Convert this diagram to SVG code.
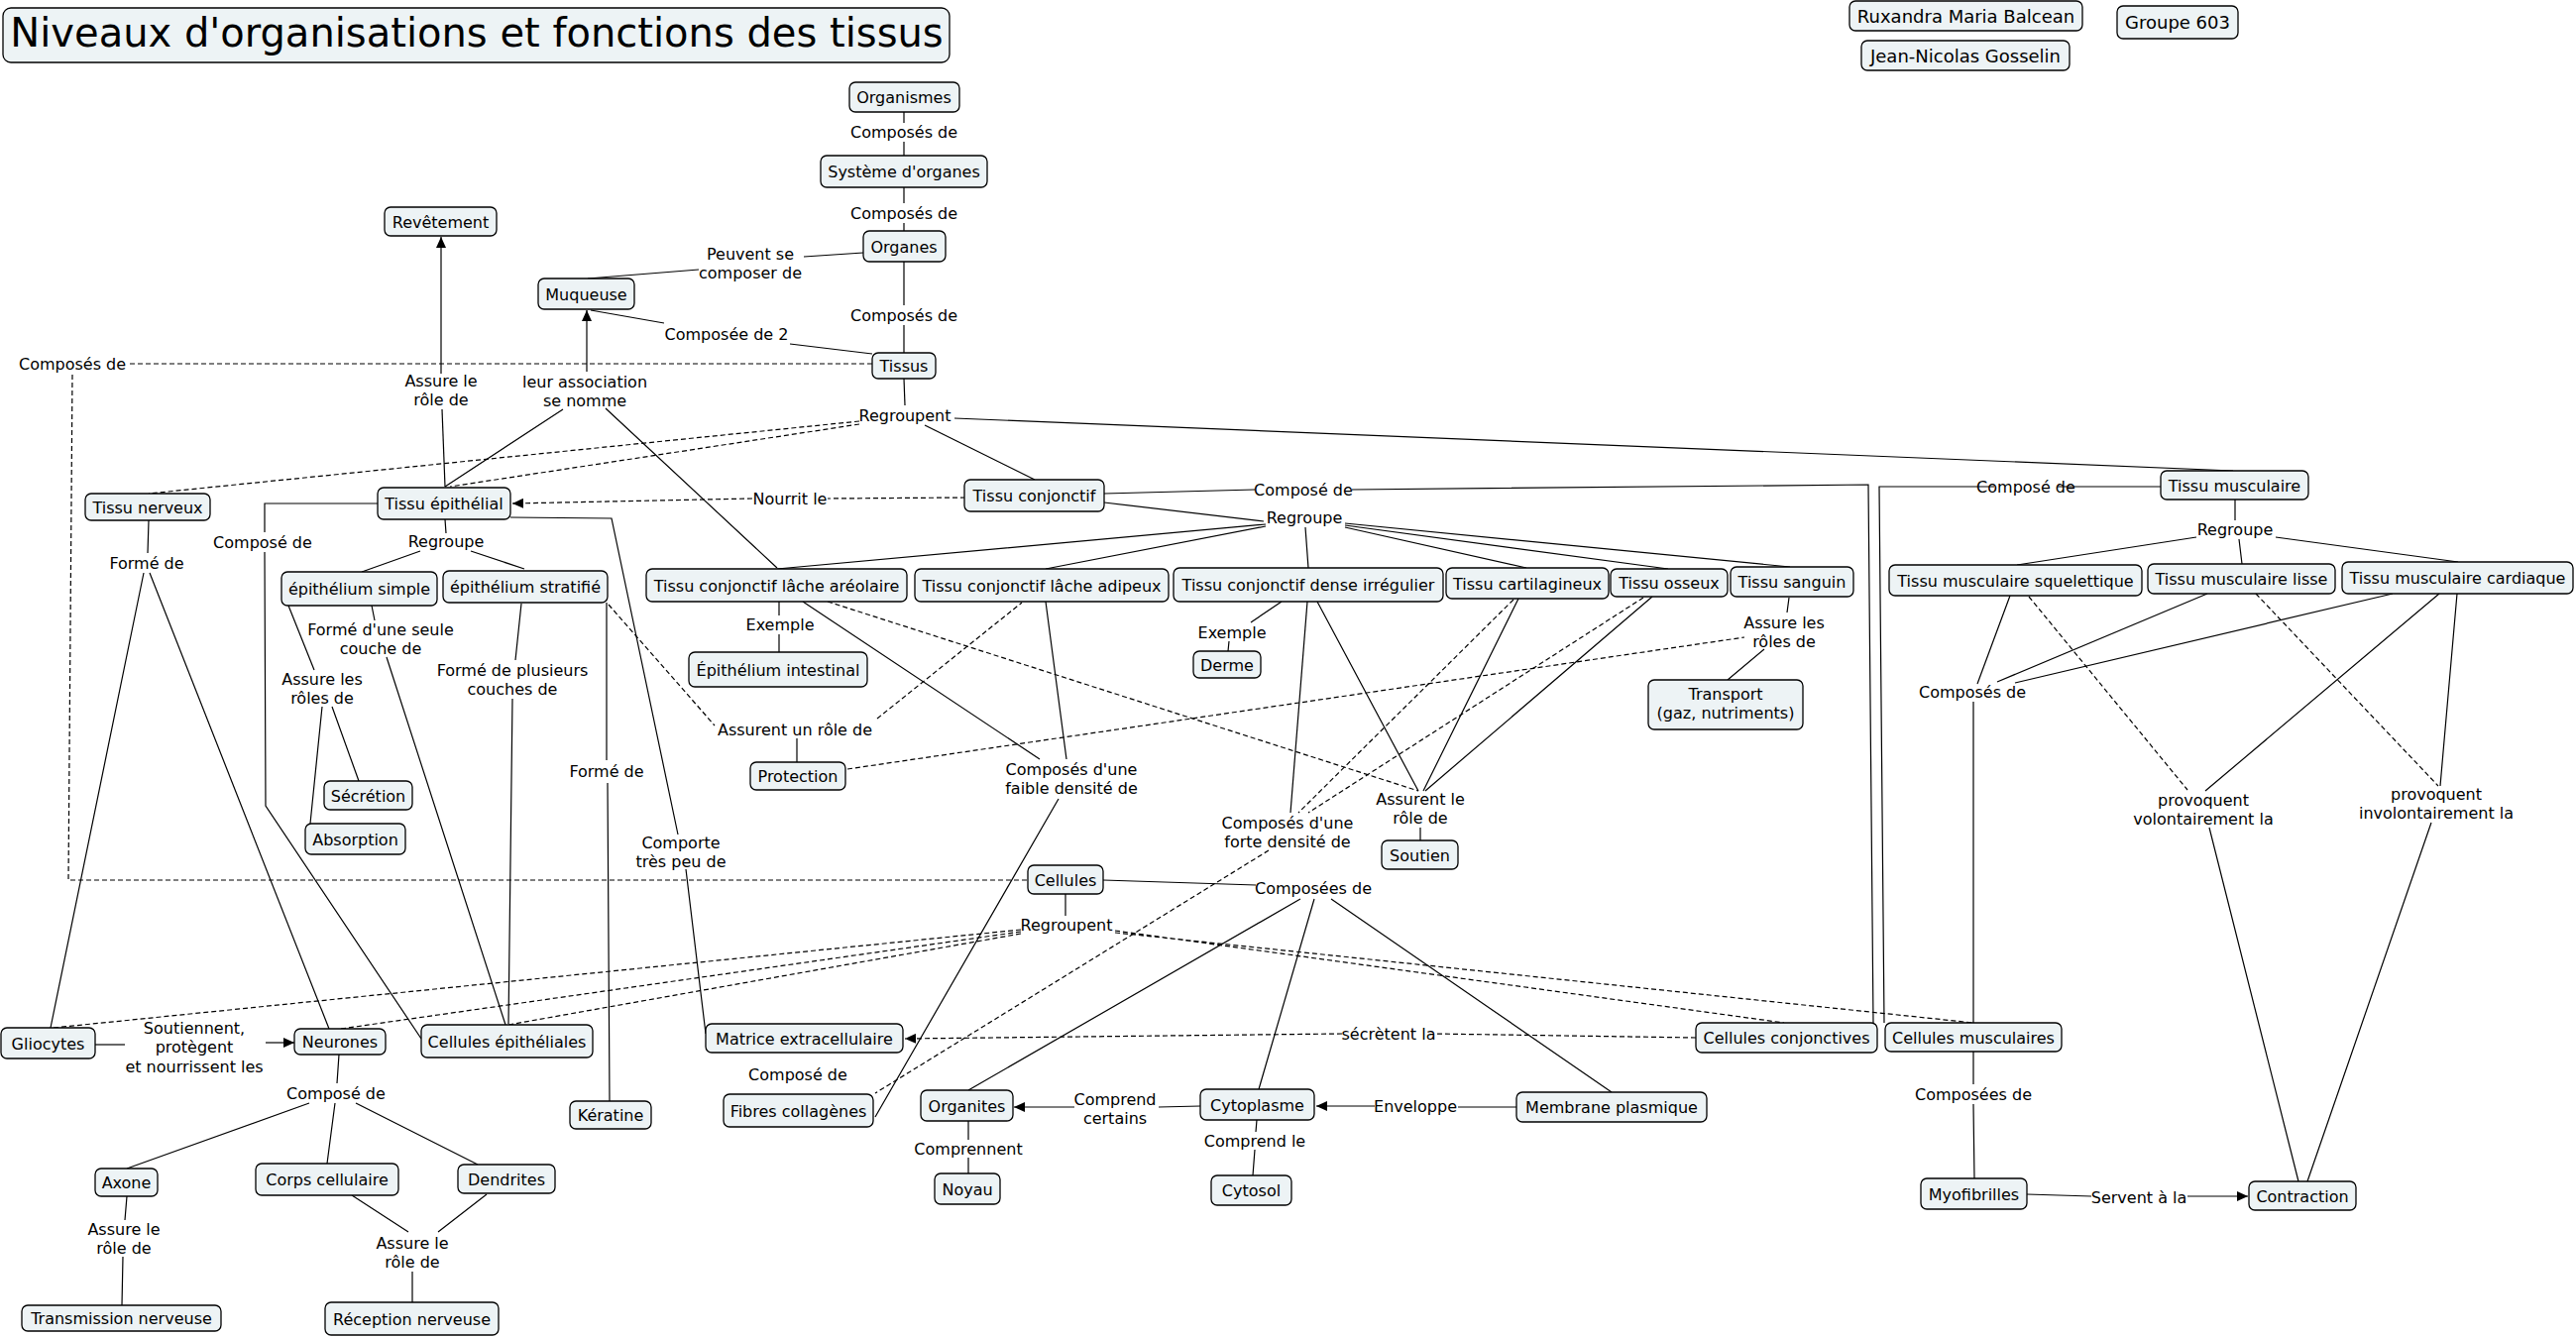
<svg xmlns="http://www.w3.org/2000/svg" width="2599" height="1349" viewBox="0 0 2599 1349">
<style>
.n rect{fill:#edf3f5;stroke:#000;stroke-width:1.3}
text{font-family:"DejaVu Sans","Liberation Sans",sans-serif;font-size:16px;fill:#000;text-anchor:middle}
.c path{fill:none;stroke:#000;stroke-width:1.2}
.c path.d{stroke-dasharray:5,3}
.c path.a{marker-end:url(#ar)}
.big{font-size:18px}
</style>
<defs>
<marker id="ar" markerUnits="userSpaceOnUse" markerWidth="12" markerHeight="10" refX="11" refY="5" orient="auto"><path d="M0,0 L11,5 L0,10 z" fill="#000"/></marker>
</defs>
<rect width="2599" height="1349" fill="#fff"/>
<g class="c" id="connectors">
<path d="M912,113 V124 M912,143 V157"/>
<path d="M912,189 V205 M912,225 V233"/>
<path d="M912,264 V308 M912,328 V356"/>
<path d="M871,255 L811,259 M705,272 L593,281"/>
<path d="M880,357 L797,347 M670,326 L596,313"/>
<path class="d" d="M880,367 H128 M73,378 L69,888 H1037"/>
<path d="M912,382 L913,409"/>
<path class="d" d="M867,425 L150,498"/>
<path class="d" d="M867,428 L454,491"/>
<path d="M933,429 L1044,484"/>
<path d="M963,422 L2253,475"/>
<path class="d" d="M974,502 L835,503"/>
<path class="d a" d="M759,503 L517,508"/>
<path class="a" d="M592,375 V313"/>
<path d="M449,491 L568,413 M611,412 L784,573"/>
<path d="M449,491 L446,413"/>
<path class="a" d="M445,377 V239"/>
<path d="M449,524 L450,538 M424,556 L365,577 M475,556 L529,574"/>
<path d="M381,508 H267 V537 M267,557 L268,813 L425,1048"/>
<path d="M515,522 L617,523 L684,842 M692,877 L712,1043"/>
<path d="M612,608 V767 M613,790 L615,1111"/>
<path class="d" d="M614,610 L721,732 M885,725 L1031,608"/>
<path d="M804,745 V769"/>
<path class="d" d="M855,776 L1760,643"/>
<path d="M375,611 L378,626 M390,663 L510,1034"/>
<path d="M526,609 L520,666 M517,705 L513,1033"/>
<path d="M291,611 L317,676 M325,713 L313,831 M335,713 L362,788"/>
<path d="M150,525 L149,558 M145,578 L51,1037 M151,578 L332,1038"/>
<path d="M96,1054 H126"/>
<path class="a" d="M268,1052 H297"/>
<path d="M342,1064 L340,1093 M312,1113 L128,1179 M338,1113 L330,1174 M359,1113 L482,1175"/>
<path d="M128,1207 L126,1231 M124,1268 L123,1317"/>
<path d="M355,1206 L412,1243 M491,1205 L442,1243 M416,1283 V1314"/>
<path d="M1114,507 L1275,526 M1277,529 L784,574 M1277,531 L1055,574 M1317,532 L1320,573 M1357,532 L1540,573 M1357,530 L1683,574 M1357,528 L1806,572"/>
<path d="M786,607 V621 M786,640 V658"/>
<path d="M1293,607 L1262,628 M1240,647 L1239,657"/>
<path d="M810,607 L1049,766 M1055,607 L1076,766 M1068,806 L883,1127"/>
<path class="d" d="M835,607 L1431,798"/>
<path d="M1329,607 L1431,798 M1532,604 L1436,798 M1667,602 L1438,798 M1433,835 V848"/>
<path d="M1319,607 L1302,820"/>
<path class="d" d="M1527,605 L1310,820 M1658,603 L1320,820 M1280,858 L883,1103"/>
<path d="M1805,603 L1803,618 M1780,655 L1743,686"/>
<path d="M1113,888 L1267,893 M1312,907 L977,1100 M1326,907 L1270,1099 M1343,907 L1626,1102"/>
<path d="M1075,902 V924"/>
<path class="d" d="M1030,938 L54,1037 M1030,940 L344,1038 M1030,942 L513,1034 M1125,939 L1800,1032 M1125,941 L1991,1032"/>
<path class="d" d="M1711,1047 L1447,1043"/>
<path class="d a" d="M1354,1043 L913,1048"/>
<path d="M1530,1117 H1471"/>
<path class="a" d="M1387,1116 L1328,1116"/>
<path d="M1211,1116 L1169,1117"/>
<path class="a" d="M1084,1117 L1023,1117"/>
<path d="M977,1131 V1150 M977,1168 V1184"/>
<path d="M1268,1130 L1267,1142 M1266,1160 L1264,1186"/>
<path d="M1114,498 L1266,494 M1364,494 L1885,489 L1890,1032"/>
<path d="M2180,491 H2076 M2012,491 L1896,491 L1901,1032"/>
<path d="M2255,504 V525 M2216,542 L2035,570 M2259,544 L2262,569 M2296,542 L2480,567"/>
<path d="M2028,601 L1995,690 M2227,599 L2015,688 M2414,599 L2033,689 M1991,708 L1991,1032"/>
<path class="d" d="M2047,602 L2207,797 M2276,599 L2460,793"/>
<path d="M2461,599 L2225,798 M2229,835 L2319,1192 M2479,599 L2462,793 M2453,830 L2328,1192"/>
<path d="M2045,1205 L2110,1207"/>
<path class="a" d="M2207,1207 L2268,1207"/>
<path d="M1991,1061 V1094 M1991,1114 L1992,1189"/>
</g>
<g id="labels">
<text x="912" y="139">Composés de</text>
<text x="912" y="221">Composés de</text>
<text x="912" y="324">Composés de</text>
<text x="757" y="262">Peuvent se</text><text x="757" y="281">composer de</text>
<text x="733" y="343">Composée de 2</text>
<text x="73" y="373">Composés de</text>
<text x="445" y="390">Assure le</text><text x="445" y="409">rôle de</text>
<text x="590" y="391">leur association</text><text x="590" y="410">se nomme</text>
<text x="913" y="425">Regroupent</text>
<text x="797" y="509">Nourrit le</text>
<text x="265" y="553">Composé de</text>
<text x="450" y="552">Regroupe</text>
<text x="148" y="574">Formé de</text>
<text x="384" y="641">Formé d'une seule</text><text x="384" y="660">couche de</text>
<text x="787" y="636">Exemple</text>
<text x="325" y="691">Assure les</text><text x="325" y="710">rôles de</text>
<text x="517" y="682">Formé de plusieurs</text><text x="517" y="701">couches de</text>
<text x="802" y="742">Assurent un rôle de</text>
<text x="612" y="784">Formé de</text>
<text x="687" y="856">Comporte</text><text x="687" y="875">très peu de</text>
<text x="1315" y="500">Composé de</text>
<text x="1316" y="528">Regroupe</text>
<text x="1243" y="644">Exemple</text>
<text x="1800" y="634">Assure les</text><text x="1800" y="653">rôles de</text>
<text x="1081" y="782">Composés d'une</text><text x="1081" y="801">faible densité de</text>
<text x="1299" y="836">Composés d'une</text><text x="1299" y="855">forte densité de</text>
<text x="1433" y="812">Assurent le</text><text x="1433" y="831">rôle de</text>
<text x="1325" y="902">Composées de</text>
<text x="1076" y="939">Regroupent</text>
<text x="1401" y="1049">sécrètent la</text>
<text x="196" y="1043">Soutiennent,</text><text x="196" y="1062">protègent</text><text x="196" y="1082">et nourrissent les</text>
<text x="339" y="1109">Composé de</text>
<text x="805" y="1090">Composé de</text>
<text x="1125" y="1115">Comprend</text><text x="1125" y="1134">certains</text>
<text x="1428" y="1122">Enveloppe</text>
<text x="977" y="1165">Comprennent</text>
<text x="1266" y="1157">Comprend le</text>
<text x="125" y="1246">Assure le</text><text x="125" y="1265">rôle de</text>
<text x="416" y="1260">Assure le</text><text x="416" y="1279">rôle de</text>
<text x="2044" y="497">Composé de</text>
<text x="2255" y="540">Regroupe</text>
<text x="1990" y="704">Composés de</text>
<text x="2223" y="813">provoquent</text><text x="2223" y="832">volontairement la</text>
<text x="2458" y="807">provoquent</text><text x="2458" y="826">involontairement la</text>
<text x="1991" y="1110">Composées de</text>
<text x="2158" y="1214">Servent à la</text>
</g>
<g id="title" class="n"><rect x="3" y="8" width="955" height="55" rx="8"/><text x="481" y="47" style="font-size:40px">Niveaux d'organisations et fonctions des tissus</text></g>
<g id="ruxandra" class="n"><rect x="1866" y="1" width="235" height="30" rx="6"/><text class="big" x="1983.5" y="22.5">Ruxandra Maria Balcean</text></g>
<g id="jean" class="n"><rect x="1878" y="41" width="210" height="30" rx="6"/><text class="big" x="1983" y="62.5">Jean-Nicolas Gosselin</text></g>
<g id="groupe" class="n"><rect x="2136" y="6" width="122" height="33" rx="6"/><text class="big" x="2197" y="29">Groupe 603</text></g>
<g id="organismes" class="n"><rect x="857" y="83" width="111" height="30" rx="6"/><text x="912" y="104">Organismes</text></g>
<g id="systeme" class="n"><rect x="828" y="157" width="168" height="32" rx="6"/><text x="912" y="179">Système d'organes</text></g>
<g id="organes" class="n"><rect x="871" y="233" width="83" height="31" rx="6"/><text x="912" y="254.5">Organes</text></g>
<g id="revetement" class="n"><rect x="388" y="209" width="113" height="29" rx="6"/><text x="444.5" y="229.5">Revêtement</text></g>
<g id="muqueuse" class="n"><rect x="543" y="281" width="97" height="31" rx="6"/><text x="591.5" y="302.5">Muqueuse</text></g>
<g id="tissus" class="n"><rect x="880" y="356" width="64" height="26" rx="6"/><text x="912" y="375">Tissus</text></g>
<g id="tissu-nerveux" class="n"><rect x="86" y="498" width="126" height="27" rx="6"/><text x="149" y="517.5">Tissu nerveux</text></g>
<g id="tissu-epithelial" class="n"><rect x="381" y="492" width="134" height="32" rx="6"/><text x="448" y="514">Tissu épithélial</text></g>
<g id="tissu-conjonctif" class="n"><rect x="973" y="484" width="141" height="32" rx="6"/><text x="1043.5" y="506">Tissu conjonctif</text></g>
<g id="tissu-musculaire" class="n"><rect x="2180" y="475" width="149" height="29" rx="6"/><text x="2254.5" y="495.5">Tissu musculaire</text></g>
<g id="epi-simple" class="n"><rect x="284" y="577" width="157" height="34" rx="6"/><text x="362.5" y="600">épithélium simple</text></g>
<g id="epi-stratifie" class="n"><rect x="447" y="576" width="166" height="32" rx="6"/><text x="530" y="598">épithélium stratifié</text></g>
<g id="areolaire" class="n"><rect x="652" y="574" width="263" height="33" rx="6"/><text x="783.5" y="596.5">Tissu conjonctif lâche aréolaire</text></g>
<g id="adipeux" class="n"><rect x="923" y="574" width="256" height="33" rx="6"/><text x="1051" y="596.5">Tissu conjonctif lâche adipeux</text></g>
<g id="dense" class="n"><rect x="1184" y="573" width="272" height="34" rx="6"/><text x="1320" y="596">Tissu conjonctif dense irrégulier</text></g>
<g id="cartilagineux" class="n"><rect x="1459" y="573" width="164" height="31" rx="6"/><text x="1541" y="594.5">Tissu cartilagineux</text></g>
<g id="osseux" class="n"><rect x="1625" y="574" width="118" height="28" rx="6"/><text x="1684" y="594">Tissu osseux</text></g>
<g id="sanguin" class="n"><rect x="1746" y="572" width="124" height="30" rx="6"/><text x="1808" y="593">Tissu sanguin</text></g>
<g id="squelettique" class="n"><rect x="1906" y="570" width="255" height="31" rx="6"/><text x="2033.5" y="591.5">Tissu musculaire squelettique</text></g>
<g id="lisse" class="n"><rect x="2167" y="569" width="189" height="30" rx="6"/><text x="2261.5" y="590">Tissu musculaire lisse</text></g>
<g id="cardiaque" class="n"><rect x="2363" y="567" width="233" height="32" rx="6"/><text x="2479.5" y="589">Tissu musculaire cardiaque</text></g>
<g id="epi-intestinal" class="n"><rect x="695" y="658" width="180" height="35" rx="6"/><text x="785" y="681.5">Épithélium intestinal</text></g>
<g id="derme" class="n"><rect x="1204" y="657" width="68" height="27" rx="6"/><text x="1238" y="676.5">Derme</text></g>
<g id="transport" class="n"><rect x="1663" y="686" width="156" height="50" rx="6"/><text x="1741" y="706">Transport</text><text x="1741" y="725">(gaz, nutriments)</text></g>
<g id="protection" class="n"><rect x="757" y="769" width="96" height="28" rx="6"/><text x="805" y="789">Protection</text></g>
<g id="secretion" class="n"><rect x="327" y="788" width="89" height="29" rx="6"/><text x="371.5" y="808.5">Sécrétion</text></g>
<g id="absorption" class="n"><rect x="308" y="831" width="101" height="31" rx="6"/><text x="358.5" y="852.5">Absorption</text></g>
<g id="soutien" class="n"><rect x="1394" y="848" width="77" height="29" rx="6"/><text x="1432.5" y="868.5">Soutien</text></g>
<g id="cellules" class="n"><rect x="1037" y="873" width="76" height="29" rx="6"/><text x="1075" y="893.5">Cellules</text></g>
<g id="gliocytes" class="n"><rect x="1" y="1037" width="95" height="31" rx="6"/><text x="48.5" y="1058.5">Gliocytes</text></g>
<g id="neurones" class="n"><rect x="297" y="1038" width="92" height="26" rx="6"/><text x="343" y="1057">Neurones</text></g>
<g id="cellules-epitheliales" class="n"><rect x="425" y="1034" width="173" height="33" rx="6"/><text x="511.5" y="1056.5">Cellules épithéliales</text></g>
<g id="matrice" class="n"><rect x="712" y="1033" width="199" height="29" rx="6"/><text x="811.5" y="1053.5">Matrice extracellulaire</text></g>
<g id="cellules-conjonctives" class="n"><rect x="1711" y="1032" width="183" height="30" rx="6"/><text x="1802.5" y="1053">Cellules conjonctives</text></g>
<g id="cellules-musculaires" class="n"><rect x="1902" y="1032" width="178" height="29" rx="6"/><text x="1991" y="1052.5">Cellules musculaires</text></g>
<g id="fibres" class="n"><rect x="730" y="1104" width="151" height="33" rx="6"/><text x="805.5" y="1126.5">Fibres collagènes</text></g>
<g id="keratine" class="n"><rect x="575" y="1111" width="82" height="28" rx="6"/><text x="616" y="1131">Kératine</text></g>
<g id="organites" class="n"><rect x="929" y="1100" width="93" height="31" rx="6"/><text x="975.5" y="1121.5">Organites</text></g>
<g id="cytoplasme" class="n"><rect x="1211" y="1099" width="115" height="31" rx="6"/><text x="1268.5" y="1120.5">Cytoplasme</text></g>
<g id="membrane" class="n"><rect x="1530" y="1102" width="192" height="30" rx="6"/><text x="1626" y="1123">Membrane plasmique</text></g>
<g id="noyau" class="n"><rect x="943" y="1184" width="66" height="31" rx="6"/><text x="976" y="1205.5">Noyau</text></g>
<g id="cytosol" class="n"><rect x="1222" y="1186" width="81" height="30" rx="6"/><text x="1262.5" y="1207">Cytosol</text></g>
<g id="myofibrilles" class="n"><rect x="1938" y="1189" width="107" height="31" rx="6"/><text x="1991.5" y="1210.5">Myofibrilles</text></g>
<g id="contraction" class="n"><rect x="2269" y="1192" width="108" height="29" rx="6"/><text x="2323" y="1212.5">Contraction</text></g>
<g id="axone" class="n"><rect x="96" y="1179" width="63" height="28" rx="6"/><text x="127.5" y="1199">Axone</text></g>
<g id="corps" class="n"><rect x="258" y="1174" width="144" height="32" rx="6"/><text x="330" y="1196">Corps cellulaire</text></g>
<g id="dendrites" class="n"><rect x="462" y="1175" width="98" height="29" rx="6"/><text x="511" y="1195.5">Dendrites</text></g>
<g id="transmission" class="n"><rect x="22" y="1317" width="201" height="26" rx="6"/><text x="122.5" y="1336">Transmission nerveuse</text></g>
<g id="reception" class="n"><rect x="328" y="1314" width="175" height="33" rx="6"/><text x="415.5" y="1336.5">Réception nerveuse</text></g>
</svg>
